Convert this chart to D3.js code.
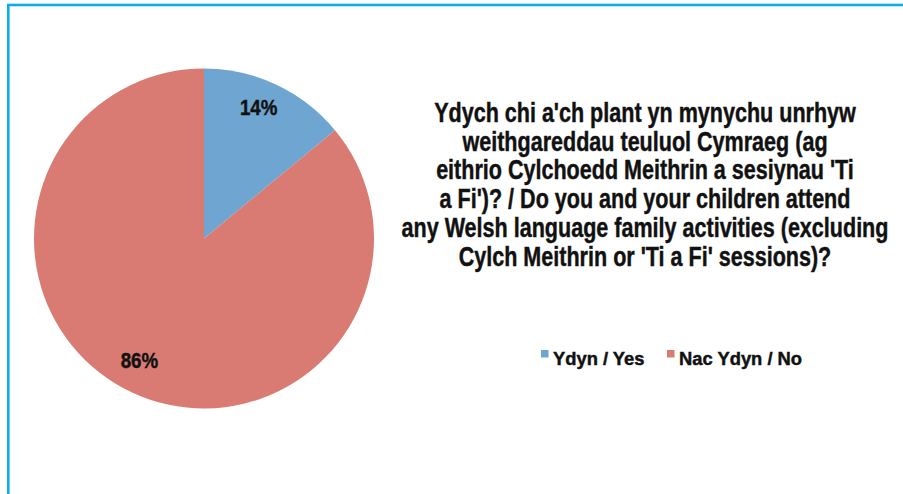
<!DOCTYPE html>
<html><head><meta charset="utf-8">
<script src="https://cdn.jsdelivr.net/npm/d3@7"></script>
<style>body{margin:0;background:#fff}svg{display:block}</style>
</head><body>
<script>
const categories = ["Ydyn / Yes", "Nac Ydyn / No"];
const values = [14, 86];
const colors = ["#6FA5D1", "#D97B73"];
const titleLines = [
  "Ydych chi a'ch plant yn mynychu unrhyw",
  "weithgareddau teuluol Cymraeg (ag",
  "eithrio Cylchoedd Meithrin a sesiynau 'Ti",
  "a Fi')? / Do you and your children attend",
  "any Welsh language family activities (excluding",
  "Cylch Meithrin or 'Ti a Fi' sessions)?"
];

const W = 903, H = 494;
const font = "'Liberation Sans', Arial, sans-serif";
const svg = d3.select("body").append("svg").attr("width", W).attr("height", H);
svg.append("rect").attr("width", W).attr("height", H).attr("fill", "#fff");

// frame
svg.append("rect").attr("x", 8.3).attr("y", 5).attr("width", W + 20).attr("height", H + 20)
  .attr("fill", "none").attr("stroke", "#0AAEEB").attr("stroke-width", 2.6);

// condensed text helper: places text at (x,y) with horizontal scale
function ctext(parent, x, y, str, size, sx, anchor) {
  return parent.append("text")
    .attr("transform", `translate(${x},${y}) scale(${sx},1)`)
    .attr("text-anchor", anchor || "start")
    .attr("font-family", font).attr("font-weight", "bold").attr("font-size", size)
    .attr("fill", "#111").attr("stroke", "#111").attr("stroke-width", 0.45)
    .text(str);
}

const cx = 204, cy = 238.5, R = 170;
const pie = d3.pie().sort(null).value(d => d)(values);
const arc = d3.arc().innerRadius(0).outerRadius(R);
const labelArc = d3.arc().innerRadius(140).outerRadius(140);
const g = svg.append("g").attr("transform", `translate(${cx},${cy})`);
g.selectAll("path").data(pie).enter().append("path")
  .attr("d", arc).attr("fill", (d, i) => colors[i]);
pie.forEach(d => {
  const [x, y] = labelArc.centroid(d);
  ctext(g, x - 5, y + 3, d.value + "%", 22, 0.85, "middle");
});

// title
titleLines.forEach((l, i) => {
  ctext(svg, 645, 122 + i * 28.7, l, 28, 0.77, "middle");
});

// legend
const lx = [541, 667];
categories.forEach((c, i) => {
  svg.append("rect").attr("x", lx[i]).attr("y", 350).attr("width", 7.5).attr("height", 7.5).attr("fill", colors[i]);
  ctext(svg, lx[i] + 12, 364.5, c, 18, 1.02);
});
</script>
</body></html>
